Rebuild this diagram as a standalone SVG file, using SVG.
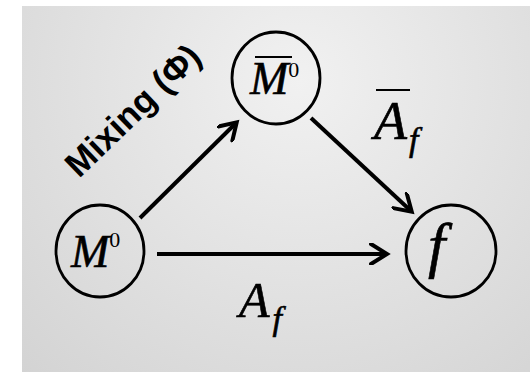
<svg xmlns="http://www.w3.org/2000/svg" width="530" height="372" viewBox="0 0 530 372">
<defs>
<radialGradient id="bg" cx="300" cy="80" r="420" gradientUnits="userSpaceOnUse">
<stop offset="0" stop-color="#f1f1f1"/>
<stop offset="1" stop-color="#d2d2d2"/>
</radialGradient>
<marker id="arr" markerUnits="userSpaceOnUse" viewBox="0 0 22 22" refX="17" refY="11" markerWidth="22" markerHeight="22" orient="auto">
<path d="M2,1 L18,11 L2,21" fill="none" stroke="#000" stroke-width="4" stroke-linecap="round" stroke-linejoin="miter"/>
</marker>
<style>
.node ellipse{fill:none;stroke:#000;stroke-width:2.8}
.math{font-family:"Liberation Serif","Times New Roman","DejaVu Serif",serif;fill:#000;stroke:#000;stroke-width:0.6}
.it{font-style:italic}
.edge{stroke:#000;stroke-width:4;fill:none;marker-end:url(#arr)}
.bar{stroke:#000;stroke-width:2}
.lbl{font-family:"Liberation Sans",Arial,sans-serif;font-weight:bold;fill:#000}
</style>
</defs>
<rect x="22" y="6" width="508" height="366" fill="url(#bg)"/>
<g id="connectors">
<line class="edge" x1="140" y1="218" x2="236" y2="123"/>
<line class="edge" x1="311" y1="118" x2="411" y2="211"/>
<line class="edge" x1="157" y1="254" x2="386" y2="254"/>
</g>
<g id="node-M0" class="node">
<ellipse cx="100" cy="251" rx="44" ry="46"/>
<text class="math" x="71" y="267" font-size="46"><tspan class="it">M</tspan><tspan font-size="22" dy="-20" stroke-width="0">0</tspan></text>
</g>
<g id="node-Mbar0" class="node">
<ellipse cx="276" cy="78" rx="44" ry="46"/>
<line class="bar" x1="255" y1="57" x2="292" y2="57"/>
<text class="math" x="250" y="94" font-size="46"><tspan class="it">M</tspan><tspan font-size="22" dy="-17" stroke-width="0">0</tspan></text>
</g>
<g id="node-f" class="node">
<ellipse cx="451" cy="251" rx="45" ry="46"/>
<text class="math it" x="428" y="266" font-size="62">f</text>
</g>
<g id="labels">
<text class="lbl" x="141" y="119" font-size="35" text-anchor="middle" transform="rotate(-44 141 119)">Mixing (Φ)</text>
<line class="bar" x1="376" y1="90" x2="410" y2="90"/>
<text class="math it" x="374" y="139" font-size="54">A<tspan font-size="34" dx="2" dy="12">f</tspan></text>
<text class="math it" x="239" y="317" font-size="50">A<tspan font-size="34" dx="3" dy="13">f</tspan></text>
</g>
</svg>
